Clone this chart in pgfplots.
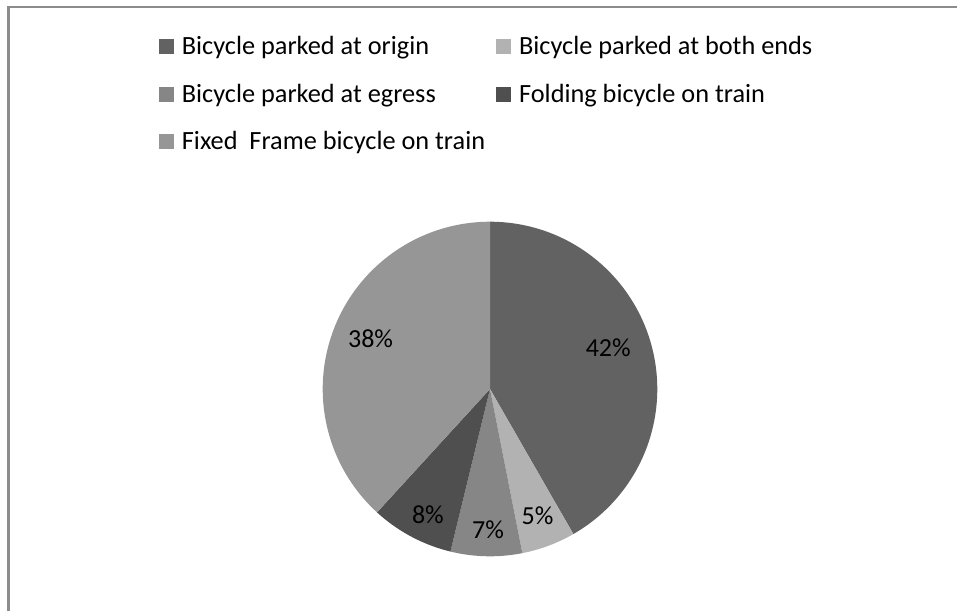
\documentclass[border=0pt]{standalone}
\usepackage{pgfplots}
\pgfplotsset{compat=1.18}
\usepackage{pgfplotstable}
\usepackage{fontspec}
\setmainfont{Carlito}
\definecolor{c0}{HTML}{626262}
\definecolor{c1}{HTML}{B2B2B2}
\definecolor{c2}{HTML}{868686}
\definecolor{c3}{HTML}{4F4F4F}
\definecolor{c4}{HTML}{969696}
\definecolor{frame}{HTML}{8C8C8C}

% shares of the pie (percent), clockwise from 12 o'clock
\pgfplotstableread{
share
41.7
5.2
6.9
8.0
38.2
}\piedata

% label positions (axis units) and displayed percentages
\pgfplotstableread{
x y p
0.707 0.248 42
0.284 -0.756 5
-0.012 -0.843 7
-0.371 -0.750 8
-0.714 0.299 38
}\labeldata

\begin{document}
\begin{tikzpicture}[x=1pt,y=1pt]
\useasboundingbox (0,0) rectangle (478.5,305);
\draw[frame, line width=1.2pt] (4.25,-2) -- (4.25,301.5) -- (481,301.5);
\begin{axis}[
  at={(161.35pt,26.85pt)}, anchor=south west,
  width=167.3pt, height=167.3pt, scale only axis,
  hide axis, xmin=-1, xmax=1, ymin=-1, ymax=1, clip=false,
  legend columns=2,
  legend cell align=left,
  legend style={at={(-0.4895,1.56)}, anchor=north west, draw=none, fill=none,
    inner sep=0pt, outer sep=0pt, column sep=4pt, row sep=11.9pt,
    font=\fontsize{13.15}{15}\selectfont,
    nodes={inner sep=0pt, text height=10pt, text depth=2pt},
    /tikz/column 2/.style={column sep=5.5pt}},
  legend image code/.code={\fill[#1] (0pt,-3.75pt) rectangle (7.5pt,3.75pt);},
]
\gdef\cum{0}
\foreach \i in {0,...,4}{
  \pgfplotstablegetelem{\i}{share}\of\piedata
  \let\v\pgfplotsretval
  \pgfmathsetmacro\a{90-3.6*\cum}
  \pgfmathsetmacro\b{90-3.6*(\cum+\v)}
  \pgfmathsetmacro\newcum{\cum+\v}
  \xdef\cum{\newcum}
  \edef\tmp{\noexpand\addplot[draw=none, fill=c\i, domain=\b:\a, samples=120, variable=\noexpand\t] ({cos(\noexpand\t)},{sin(\noexpand\t)}) -- (axis cs:0,0) -- cycle;}
  \tmp
}
\legend{Bicycle parked at origin, Bicycle parked at both ends, Bicycle parked at egress, Folding bicycle on train, Fixed\ \ Frame bicycle on train}
\addplot[draw=none, mark=none, forget plot, point meta=explicit symbolic,
  nodes near coords={\pgfplotspointmeta\%},
  nodes near coords align=center,
  every node near coord/.append style={anchor=center, inner sep=0pt, text=black, font=\fontsize{13}{15}\selectfont}]
  table[x=x, y=y, meta=p] {\labeldata};
\end{axis}
\end{tikzpicture}
\end{document}
